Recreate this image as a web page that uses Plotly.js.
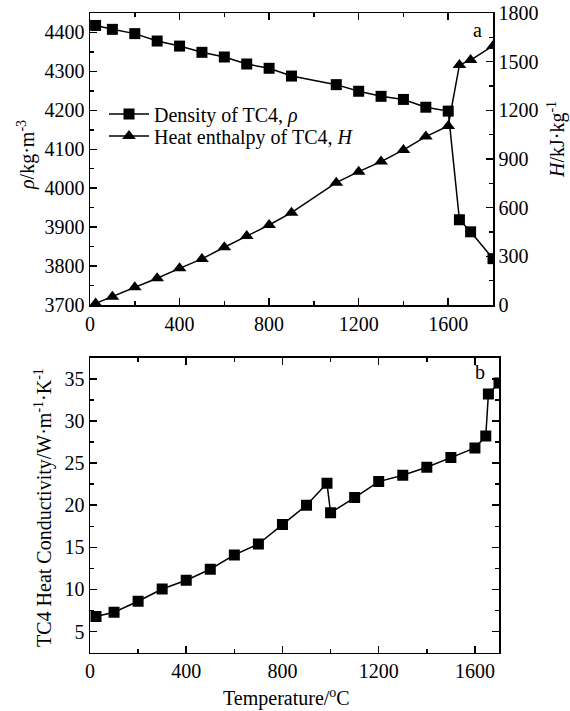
<!DOCTYPE html>
<html>
<head>
<meta charset="utf-8">
<script src="https://cdn.plot.ly/plotly-3.0.1.min.js"></script>
<style>html,body{margin:0;padding:0;background:#fff;}#chart{width:570px;height:711px;}</style>
</head>
<body>
<div id="chart"></div>
<script>
// ---- data ----
const tempA = [25,100,200,300,400,500,600,700,800,900,1100,1200,1300,1400,1500,1600,1650,1700,1800];
const density = [4418,4408,4397,4378,4365,4349,4337,4319,4308,4288,4266,4249,4236,4228,4208,4198,3919,3888,3819];
const enthalpy = [10,51,109,165,226,284,356,425,493,569,754,822,884,956,1038,1104,1480,1510,1597];
const tempB = [25,100,200,300,400,500,600,700,800,900,985,1000,1100,1200,1300,1400,1500,1600,1645,1656,1700];
const conductivity = [6.8,7.3,8.6,10.05,11.1,12.4,14.1,15.4,17.7,20.0,22.6,19.1,20.9,22.8,23.55,24.5,25.65,26.8,28.2,33.2,34.5];
const seriesNames = ["Density of TC4, <i>ρ</i>", "Heat enthalpy of TC4, <i>H</i>"];

const W = 570, H = 711;
const px = v => v / W, py = v => 1 - v / H;
const FONT = "Liberation Serif, Times New Roman, serif";
const FS = 20;

const traces = [
  {x: tempA, y: density, name: seriesNames[0], type: 'scatter', mode: 'lines+markers',
   xaxis: 'x', yaxis: 'y', legend: 'legend', line: {color: '#000', width: 1.5},
   marker: {symbol: 'square', size: 11, color: '#000'}},
  {x: tempA, y: enthalpy, name: seriesNames[1], type: 'scatter', mode: 'lines+markers',
   xaxis: 'x', yaxis: 'y2', legend: 'legend2', line: {color: '#000', width: 1.5},
   marker: {symbol: 'triangle-up', size: 12, color: '#000'}},
  {x: tempB, y: conductivity, name: 'Heat conductivity', showlegend: false, type: 'scatter',
   mode: 'lines+markers', xaxis: 'x2', yaxis: 'y3', line: {color: '#000', width: 1.5},
   marker: {symbol: 'square', size: 11, color: '#000'}}
];

const axBase = {
  showline: true, linecolor: '#000', linewidth: 1.5, showgrid: false, zeroline: false,
  ticks: 'inside', ticklen: 7, tickwidth: 1.5, tickcolor: '#000',
  tickfont: {family: FONT, size: FS, color: '#000'},
  minor: {ticks: 'inside', ticklen: 4, tickwidth: 1.5, tickcolor: '#000'}
};
const legBase = {xanchor: 'left', yanchor: 'middle', bgcolor: 'rgba(0,0,0,0)',
  font: {family: FONT, size: FS, color: '#000'}, itemwidth: 40};

const layout = {
  width: W, height: H,
  margin: {l: 0, r: 0, t: 0, b: 0},
  paper_bgcolor: '#fff', plot_bgcolor: '#fff',
  font: {family: FONT, size: FS, color: '#000'},
  showlegend: true,
  legend: Object.assign({}, legBase, {x: px(104), y: py(114)}),
  legend2: Object.assign({}, legBase, {x: px(104), y: py(136)}),
  xaxis: Object.assign({}, axBase, {domain: [px(90), px(493)], anchor: 'y', range: [0, 1800],
          dtick: 400, tick0: 0, mirror: 'ticks', minor: Object.assign({}, axBase.minor, {dtick: 200})}),
  yaxis: Object.assign({}, axBase, {domain: [py(305), py(13)], anchor: 'x', range: [3700, 4450],
          dtick: 100, tick0: 3700, minor: Object.assign({}, axBase.minor, {dtick: 50})}),
  yaxis2: Object.assign({}, axBase, {overlaying: 'y', side: 'right', anchor: 'x', range: [0, 1800],
          dtick: 300, tick0: 0, minor: Object.assign({}, axBase.minor, {dtick: 150})}),
  xaxis2: Object.assign({}, axBase, {domain: [px(90), px(499)], anchor: 'y3', range: [0, 1700],
          dtick: 400, tick0: 0, mirror: 'ticks', minor: Object.assign({}, axBase.minor, {dtick: 200})}),
  yaxis3: Object.assign({}, axBase, {domain: [py(652.7), py(357.7)], anchor: 'x2', range: [2.5, 37.5],
          dtick: 5, tick0: 0, mirror: 'ticks', minor: Object.assign({}, axBase.minor, {dtick: 2.5})}),
  annotations: [
    {text: '<i>ρ</i>/kg·m<sup>-3</sup>', xref: 'paper', yref: 'paper', x: px(26), y: py(155),
     xanchor: 'center', yanchor: 'middle', textangle: -90, showarrow: false, font: {family: FONT, size: FS}},
    {text: '<i>H</i>/kJ·kg<sup>-1</sup>', xref: 'paper', yref: 'paper', x: px(557), y: py(140),
     xanchor: 'center', yanchor: 'middle', textangle: -90, showarrow: false, font: {family: FONT, size: FS}},
    {text: 'TC4 Heat Conductivity/W·m<sup>-1</sup>·K<sup>-1</sup>', xref: 'paper', yref: 'paper',
     x: px(43), y: py(508), xanchor: 'center', yanchor: 'middle', textangle: -90, showarrow: false,
     font: {family: FONT, size: FS}},
    {text: 'Temperature/<sup>o</sup>C', xref: 'paper', yref: 'paper', x: px(286), y: py(697),
     xanchor: 'center', yanchor: 'middle', showarrow: false, font: {family: FONT, size: FS}},
    {text: 'a', xref: 'paper', yref: 'paper', x: px(477), y: py(30), xanchor: 'center', yanchor: 'middle',
     showarrow: false, font: {family: FONT, size: FS}},
    {text: 'b', xref: 'paper', yref: 'paper', x: px(480), y: py(372), xanchor: 'center', yanchor: 'middle',
     showarrow: false, font: {family: FONT, size: FS}}
  ]
};

Plotly.newPlot('chart', traces, layout, {displayModeBar: false, staticPlot: true});
</script>
</body>
</html>
